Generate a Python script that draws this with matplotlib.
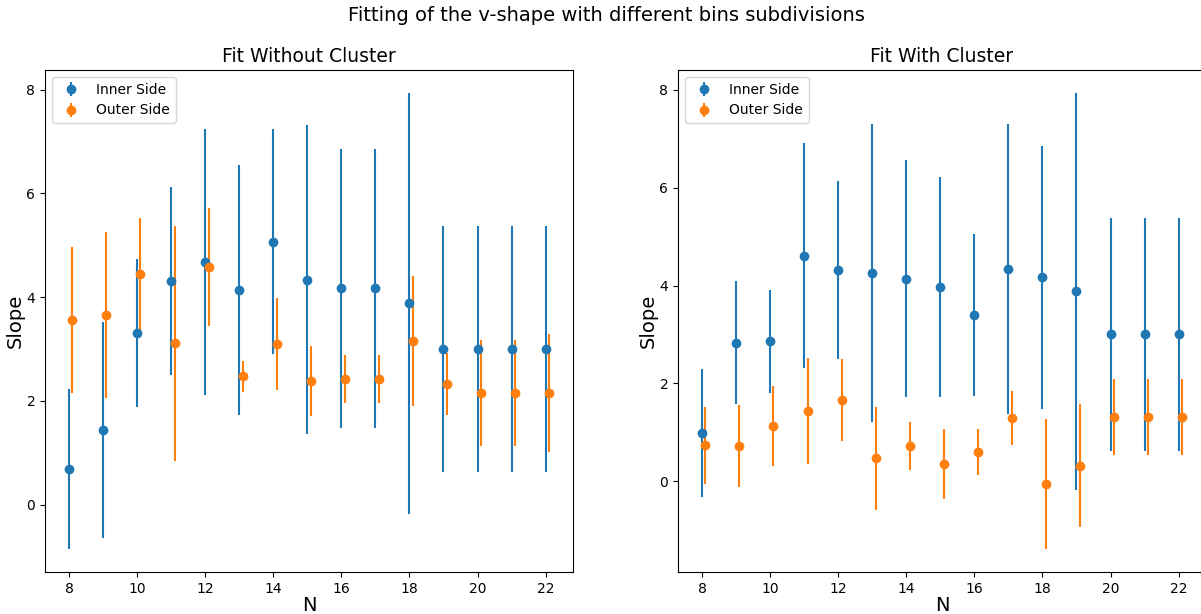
import numpy as np
import matplotlib.pyplot as plt

N = np.arange(8, 23)

# Fit without cluster
inner_wo = [0.68, 1.44, 3.31, 4.31, 4.68, 4.14, 5.07, 4.34, 4.17, 4.17, 3.88, 3.00, 3.00, 3.00, 3.00]
inner_wo_err = [1.54, 2.09, 1.43, 1.82, 2.57, 2.41, 2.17, 2.97, 2.69, 2.69, 4.06, 2.38, 2.38, 2.38, 2.38]
outer_wo = [3.56, 3.65, 4.45, 3.11, 4.58, 2.47, 3.10, 2.38, 2.42, 2.42, 3.15, 2.32, 2.15, 2.15, 2.15]
outer_wo_err = [1.40, 1.60, 1.08, 2.27, 1.14, 0.30, 0.89, 0.68, 0.47, 0.47, 1.25, 0.60, 1.02, 1.02, 1.13]

# Fit with cluster
inner_w = [0.99, 2.83, 2.86, 4.61, 4.31, 4.25, 4.14, 3.97, 3.40, 4.34, 4.17, 3.88, 3.00, 3.00, 3.00]
inner_w_err = [1.31, 1.26, 1.05, 2.30, 1.82, 3.05, 2.42, 2.24, 1.66, 2.97, 2.69, 4.06, 2.38, 2.38, 2.38]
outer_w = [0.73, 0.72, 1.13, 1.43, 1.66, 0.47, 0.72, 0.35, 0.60, 1.30, -0.06, 0.32, 1.31, 1.31, 1.31]
outer_w_err = [0.78, 0.83, 0.82, 1.08, 0.83, 1.05, 0.50, 0.72, 0.47, 0.55, 1.33, 1.26, 0.77, 0.77, 0.77]

W, H = 1201, 614
fig = plt.figure(figsize=(W / 100, H / 100), dpi=100)
# right panel runs slightly off the canvas, as in the cropped original
ax1 = fig.add_axes([45 / W, 1 - 572 / H, 528 / W, 502 / H])
ax2 = fig.add_axes([678 / W, 1 - 572 / H, 528 / W, 502 / H])

for ax, title, inn, inn_e, out, out_e in [
    (ax1, "Fit Without Cluster", inner_wo, inner_wo_err, outer_wo, outer_wo_err),
    (ax2, "Fit With Cluster", inner_w, inner_w_err, outer_w, outer_w_err),
]:
    ax.errorbar(N, inn, yerr=inn_e, fmt='o', label="Inner Side")
    ax.errorbar(N + 0.1, out, yerr=out_e, fmt='o', label="Outer Side")
    ax.set_title(title, fontsize=13.5)
    ax.set_xlabel("N", fontsize=14, labelpad=0)
    ax.set_ylabel("Slope", fontsize=14, labelpad=1)
    ax.legend(loc="upper left", fontsize=10)

fig.suptitle("Fitting of the v-shape with different bins subdivisions", fontsize=14, x=0.505, y=0.99)
fig.savefig("out.png")
